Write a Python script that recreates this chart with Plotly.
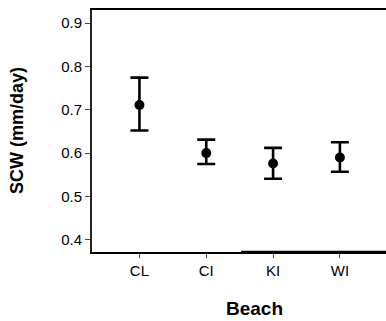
import plotly.graph_objects as go

beaches = ["CL", "CI", "KI", "WI"]
means = [0.711, 0.600, 0.576, 0.590]
upper = [0.774, 0.631, 0.612, 0.625]
lower = [0.652, 0.575, 0.541, 0.557]
y_ticks = [0.4, 0.5, 0.6, 0.7, 0.8, 0.9]

err_plus = [u - m for u, m in zip(upper, means)]
err_minus = [m - l for m, l in zip(means, lower)]

W, H = 386, 321
L, R, T, B = 92, 0, 10, 69
pw, ph = W - L - R, H - T - B

fig = go.Figure()
fig.add_trace(go.Scatter(
    x=list(range(len(beaches))), y=means, mode="markers",
    marker=dict(color="black", size=10),
    error_y=dict(type="data", symmetric=False, array=err_plus, arrayminus=err_minus,
                 color="black", thickness=2.6, width=9),
    showlegend=False,
))

font = "Liberation Sans, Arial, sans-serif"
fig.update_layout(
    width=W, height=H,
    margin=dict(l=L, r=R, t=T, b=B),
    paper_bgcolor="white", plot_bgcolor="white",
    font=dict(family=font, color="black"),
    xaxis=dict(
        tickmode="array", tickvals=list(range(len(beaches))), ticktext=beaches,
        range=[-0.71, 3.69], showgrid=False, zeroline=False,
        showline=True, linecolor="black", linewidth=2, mirror=True,
        ticks="outside", ticklen=4, tickcolor="#444", tickwidth=1,
        tickfont=dict(size=15, color="black", family=font),
    ),
    yaxis=dict(
        range=[0.372, 0.930], tickvals=y_ticks, tickformat=".1f",
        showgrid=False, zeroline=False,
        showline=True, linecolor="#222", linewidth=2, mirror=False,
        ticks="outside", ticklen=5, tickcolor="#444", tickwidth=1,
        tickfont=dict(size=15, color="black", family=font),
    ),
    annotations=[
        dict(text="<b>SCW (mm/day)</b>", xref="paper", yref="paper",
             x=(17 - L) / pw, y=0.5, textangle=-90, showarrow=False,
             xanchor="center", yanchor="middle",
             font=dict(size=18, color="black", family=font)),
        dict(text="<b>Beach</b>", xref="paper", yref="paper",
             x=(255 - L) / pw, y=(252 - 308) / ph, showarrow=False,
             xanchor="center", yanchor="middle",
             font=dict(size=19, color="black", family=font)),
    ],
    shapes=[
        dict(type="line", xref="paper", yref="paper", x0=(241 - L) / pw, x1=1.0,
             y0=0, y1=0, line=dict(color="black", width=2.4)),
    ],
)

fig.write_html("out.html")
